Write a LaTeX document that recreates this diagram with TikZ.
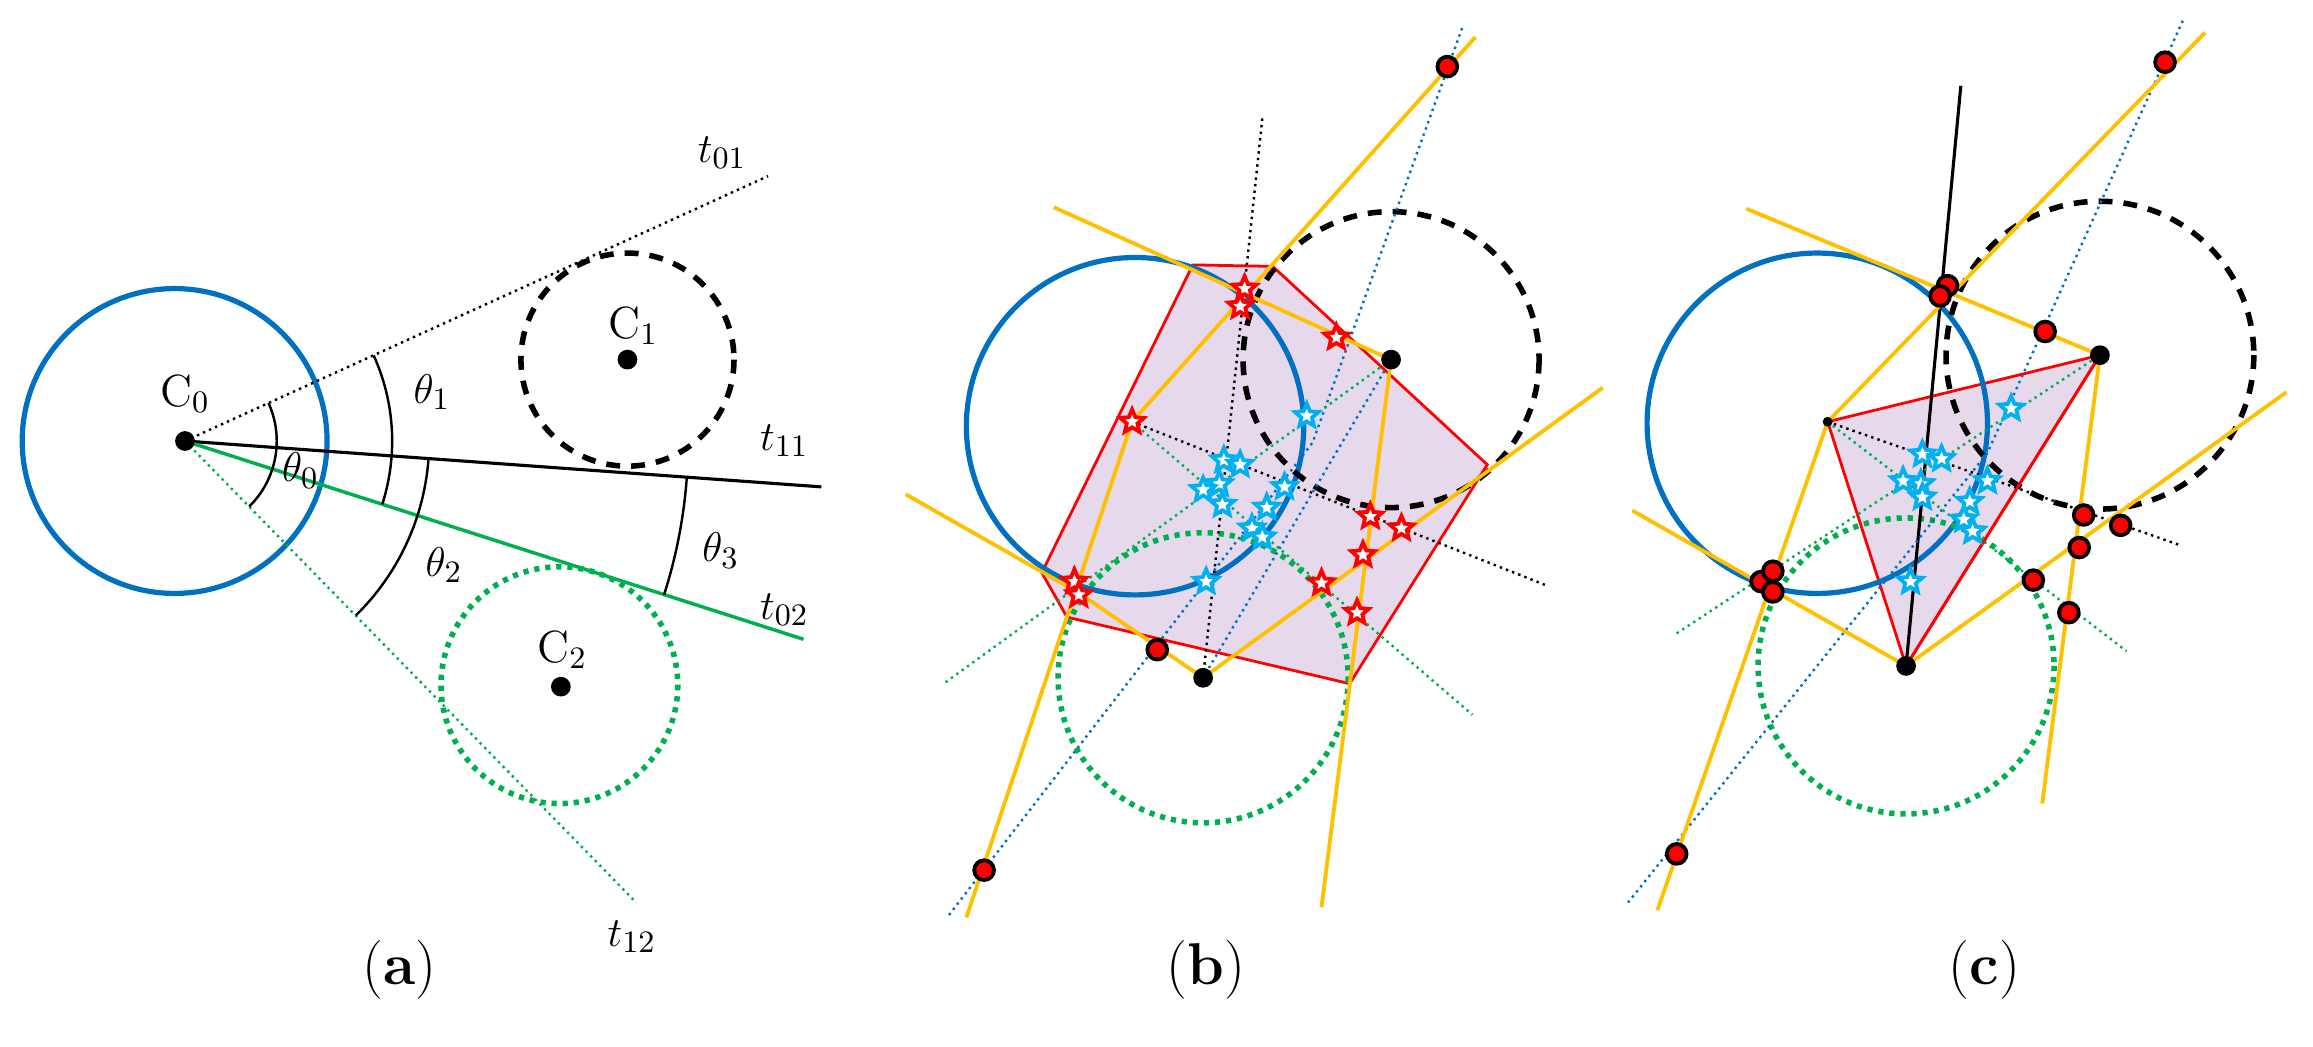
\documentclass[tikz,border=0pt]{standalone}
\usepackage{amsmath}
\usepackage{tikz}
\usetikzlibrary{shapes.geometric, arrows.meta, positioning}
\definecolor{cblue}{HTML}{0070C0}
\definecolor{corange}{HTML}{FFC000}
\definecolor{cgreen}{HTML}{00B050}
\definecolor{ccyan}{HTML}{00B0F0}
\definecolor{cpurple}{HTML}{E6D9EC}
\begin{document}
\begin{tikzpicture}[x=0.015cm, y=-0.015cm,
    bluecirc/.style={draw=cblue, line width=1.5pt},
    dashcirc/.style={draw=black, line width=1.6pt, dash pattern=on 4pt off 3.2pt},
    greencirc/.style={draw=cgreen, line width=1.6pt, dash pattern=on 1.5pt off 1.7pt},
    tline/.style={draw=corange, line width=1.1pt},
    thindot/.style={line width=0.7pt, dash pattern=on 0.7pt off 1.2pt},
    poly/.style={draw=red, line width=0.8pt, fill=cpurple},
    cdot/.style={circle, fill=black, inner sep=0, minimum size=0.2cm},
    sdot/.style={circle, fill=black, inner sep=0, minimum size=0.1cm},
    rstar/.style={star, star points=5, star point ratio=2.2, draw=red, fill=white, line width=1.1pt, inner sep=0, minimum size=0.25cm},
    bstar/.style={star, star points=5, star point ratio=2.2, draw=ccyan, fill=white, line width=1.1pt, inner sep=0, minimum size=0.25cm},
    rdot/.style={circle, draw=black, fill=red, line width=1.1pt, inner sep=0, minimum size=0.2cm},
    lab/.style={font=\fontsize{17}{20}\selectfont},
    mlab/.style={font=\fontsize{13}{15}\selectfont}
]
\useasboundingbox (0,0) rectangle (1563,707);

% ---------- (a) ----------
\coordinate (A0) at (125,298);
\coordinate (A1) at (424,243);
\coordinate (A2) at (379,464);
\draw[bluecirc] (118,298) circle[radius=103];
\draw[dashcirc] (A1) circle[radius=72];
\draw[greencirc] (378,463) circle[radius=80];
\coordinate (t01) at (519,119);
\coordinate (t11) at (555,329);
\coordinate (t02) at (543,432);
\coordinate (t12) at (430,610);
\draw[thindot] (A0) -- (t01);
\draw[line width=0.9pt] (A0) -- (t11);
\draw[cgreen, line width=1pt] (A0) -- (t02);
\draw[cgreen, thindot] (A0) -- (t12);
\draw[line width=0.7pt] ([shift={(-24.4:62)}]A0) arc[start angle=-24.4, end angle=45.6, radius=62];
\draw[line width=0.7pt] ([shift={(-24.4:140)}]A0) arc[start angle=-24.4, end angle=17.8, radius=140];
\draw[line width=0.7pt] ([shift={(4.1:165)}]A0) arc[start angle=4.1, end angle=45.6, radius=165];
\draw[line width=0.7pt] ([shift={(4.1:340)}]A0) arc[start angle=4.1, end angle=17.8, radius=340];
\node[cdot] (c0) at (A0) {};
\node[cdot] (c1) at (A1) {};
\node[cdot] (c2) at (A2) {};
\node[mlab] at (125,266) {C$_0$};
\node[mlab] at (428,220) {C$_1$};
\node[mlab] at (380,439) {C$_2$};
\node[mlab] at (488,103) {$t_{01}$};
\node[mlab] at (530,298) {$t_{11}$};
\node[mlab] at (530,412) {$t_{02}$};
\node[mlab] at (427,633) {$t_{12}$};
\node[mlab] at (203,318) {$\theta_0$};
\node[mlab] at (292,265) {$\theta_1$};
\node[mlab] at (300,382) {$\theta_2$};
\node[mlab] at (487,372) {$\theta_3$};
\node[lab] (la) at (270,655) {(\textbf{a})};

% ---------- (b) ----------
\coordinate (B0) at (765,285);
\coordinate (B1) at (940,243);
\coordinate (B2) at (813,458);
\filldraw[poly] (806,179) -- (860,180) -- (1005,314) -- (912,462) -- (721,417) -- (704,387) -- cycle;
\draw[bluecirc] (767,288) circle[radius=114];
\draw[dashcirc] (B1) circle[radius=100];
\draw[greencirc] (B2) circle[radius=98];
\draw[thindot] (B2) -- (853,80);
\draw[thindot] (B0) -- (1046,396);
\draw[cblue, thindot] (988,19) -- (887,299) -- (640,620);
\draw[cblue, thindot] (B1) -- (B2);
\draw[cgreen, thindot] (B0) -- (995,483);
\draw[cgreen, thindot] (639,461) -- (B1);
\draw[tline] (997,25) -- (B0) -- (653,620);
\draw[tline] (712,140) -- (B1) -- (893,613);
\draw[tline] (612,334) -- (728,400) -- (B2) -- (1083,262);
\foreach \p [count=\i] in {(841,195),(838,207),(765,285),(726,393),(729,402),(903,228),(926,349),(947,357),(921,375),(893,394),(917,414)}
    \node[rstar] (rb\i) at \p {};
\foreach \p [count=\i] in {(883,281),(827,311),(838,314),(824,327),(813,331),(826,341),(868,329),(856,343),(846,357),(853,363),(815,393)}
    \node[bstar] (bb\i) at \p {};
\foreach \p [count=\i] in {(978,45),(782,439),(665,588)}
    \node[rdot] (db\i) at \p {};
\node[cdot] (b1) at (B1) {};
\node[cdot] (b2) at (B2) {};
\node[lab] (lb) at (815,655) {(\textbf{b})};

% ---------- (c) ----------
\coordinate (C0) at (1235,285);
\coordinate (C1) at (1419,240);
\coordinate (C2) at (1288,450);
\filldraw[poly] (C0) -- (C1) -- (C2) -- cycle;
\draw[bluecirc] (1228,286) circle[radius=115];
\draw[dashcirc] (C1) circle[radius=104];
\draw[greencirc] (C2) circle[radius=100];
\draw[line width=0.9pt] (C2) -- (1325,58);
\draw[thindot] (C0) -- (1472,368);
\draw[cblue, thindot] (1475,14) -- (1343,306) -- (1100,610);
\draw[cblue, thindot] (C1) -- (C2);
\draw[cgreen, thindot] (C0) -- (1437,440);
\draw[cgreen, thindot] (1133,428) -- (C1);
\draw[red, line width=0.8pt] (C1) -- (C2);
\draw[tline] (1490,22) -- (C0) -- (1120,615);
\draw[tline] (1180,141) -- (C1) -- (1380,543);
\draw[tline] (1103,345) -- (C2) -- (1545,265);
\foreach \p [count=\i] in {(1359,276),(1299,307),(1312,310),(1298,327),(1286,325),(1299,336),(1343,325),(1331,339),(1327,351),(1333,359),(1291,393)}
    \node[bstar] (bc\i) at \p {};
\foreach \p [count=\i] in {(1463,42),(1316,193),(1311,200),(1382,224),(1190,393),(1198,386),(1198,400),(1374,392),(1408,348),(1433,355),(1405,370),(1398,414),(1133,577)}
    \node[rdot] (dc\i) at \p {};
\node[sdot] (c0b) at (C0) {};
\node[cdot] (c1b) at (C1) {};
\node[cdot] (c2b) at (C2) {};
\node[lab] (lc) at (1341,655) {(\textbf{c})};
\end{tikzpicture}
\end{document}
